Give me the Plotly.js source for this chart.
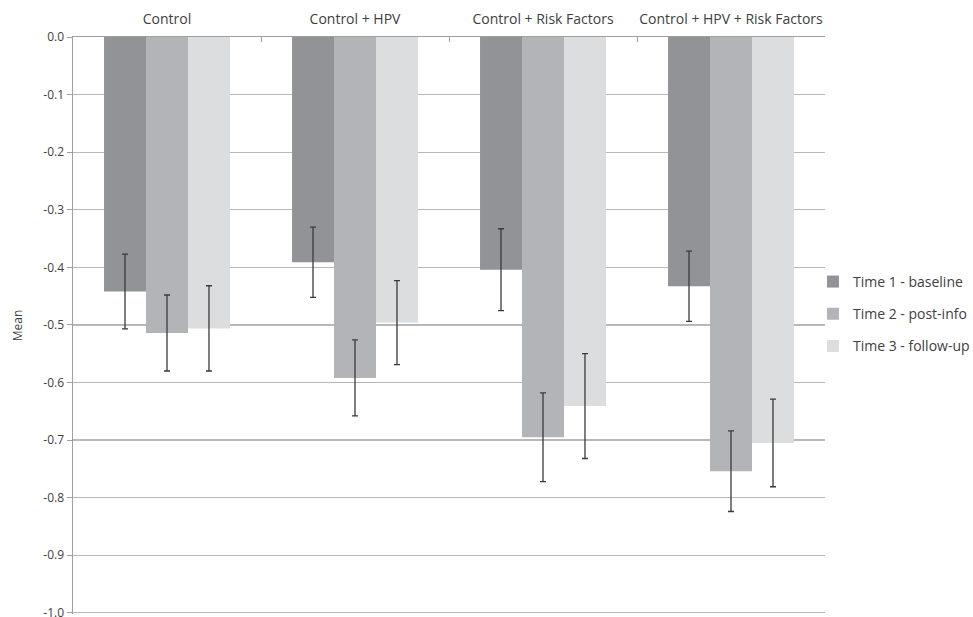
<!DOCTYPE html>
<html>
<head>
<meta charset="utf-8">
<script src="https://cdn.plot.ly/plotly-3.0.1.min.js"></script>
<style>html,body{margin:0;padding:0;background:#fff;}#chart{width:973px;height:617px;}</style>
</head>
<body>
<div id="chart"></div>
<script>
const categories = ["Control", "Control + HPV", "Control + Risk Factors", "Control + HPV + Risk Factors"];
const seriesNames = ["Time 1 - baseline", "Time 2 - post-info", "Time 3 - follow-up"];
const time1 = [-0.442, -0.391, -0.404, -0.433];
const time2 = [-0.514, -0.592, -0.695, -0.754];
const time3 = [-0.506, -0.496, -0.641, -0.705];
const err1 = [0.065, 0.061, 0.071, 0.061];
const err2 = [0.066, 0.066, 0.077, 0.070];
const err3 = [0.074, 0.073, 0.091, 0.076];
const yTicks = [0, -0.1, -0.2, -0.3, -0.4, -0.5, -0.6, -0.7, -0.8, -0.9, -1.0];

const colors = ["#929396", "#b3b4b7", "#dcdddf"];
const values = [time1, time2, time3];
const errs = [err1, err2, err3];

const traces = values.map((v, i) => ({
  type: "bar",
  name: seriesNames[i],
  x: categories,
  y: v,
  legendgroup: "g" + i,
  marker: {color: colors[i], line: {width: 0}},
  error_y: {type: "data", array: errs[i], symmetric: true, visible: true,
            color: "#3a3a3a", thickness: 1.3, width: 3}
}));

const txtFont = "'Open Sans', sans-serif";
const layout = {
  width: 973, height: 617,
  margin: {l: 73, r: 148, t: 37, b: 3, autoexpand: false},
  paper_bgcolor: "#ffffff", plot_bgcolor: "#ffffff",
  barmode: "group", bargap: 0.33, bargroupgap: 0,
  showlegend: true,
  legend: {x: 0.984, y: 0.52, xanchor: "left", yanchor: "middle", itemwidth: 30,
           font: {family: txtFont, size: 14, color: "#404040"},
           tracegroupgap: 11, bgcolor: "rgba(0,0,0,0)"},
  xaxis: {side: "top", type: "category", showline: true, linecolor: "#a0a0a0", linewidth: 1.5,
          ticks: "inside", tickson: "boundaries", ticklen: 5, tickcolor: "#a0a0a0",
          ticklabelstandoff: 6, tickangle: 0, automargin: false,
          showgrid: false, zeroline: false,
          tickfont: {family: txtFont, size: 14, color: "#404040"}},
  yaxis: {range: [-1.002, 0], tickvals: yTicks, ticktext: yTicks.map(t => t.toFixed(1)),
          ticklabeloverflow: "allow", automargin: false,
          showline: true, linecolor: "#a0a0a0", linewidth: 1.5,
          ticks: "outside", ticklen: 5, tickcolor: "#a0a0a0",
          showgrid: true, gridcolor: "#b8b8b8", gridwidth: 1.3, zeroline: false,
          tickfont: {family: txtFont, size: 12, color: "#404040"},
          title: {text: "Mean", font: {family: txtFont, size: 12, color: "#404040"}, standoff: 18}},
  font: {family: txtFont, color: "#404040"}
};

Plotly.newPlot("chart", traces, layout, {displayModeBar: false, staticPlot: true});
</script>
</body>
</html>
